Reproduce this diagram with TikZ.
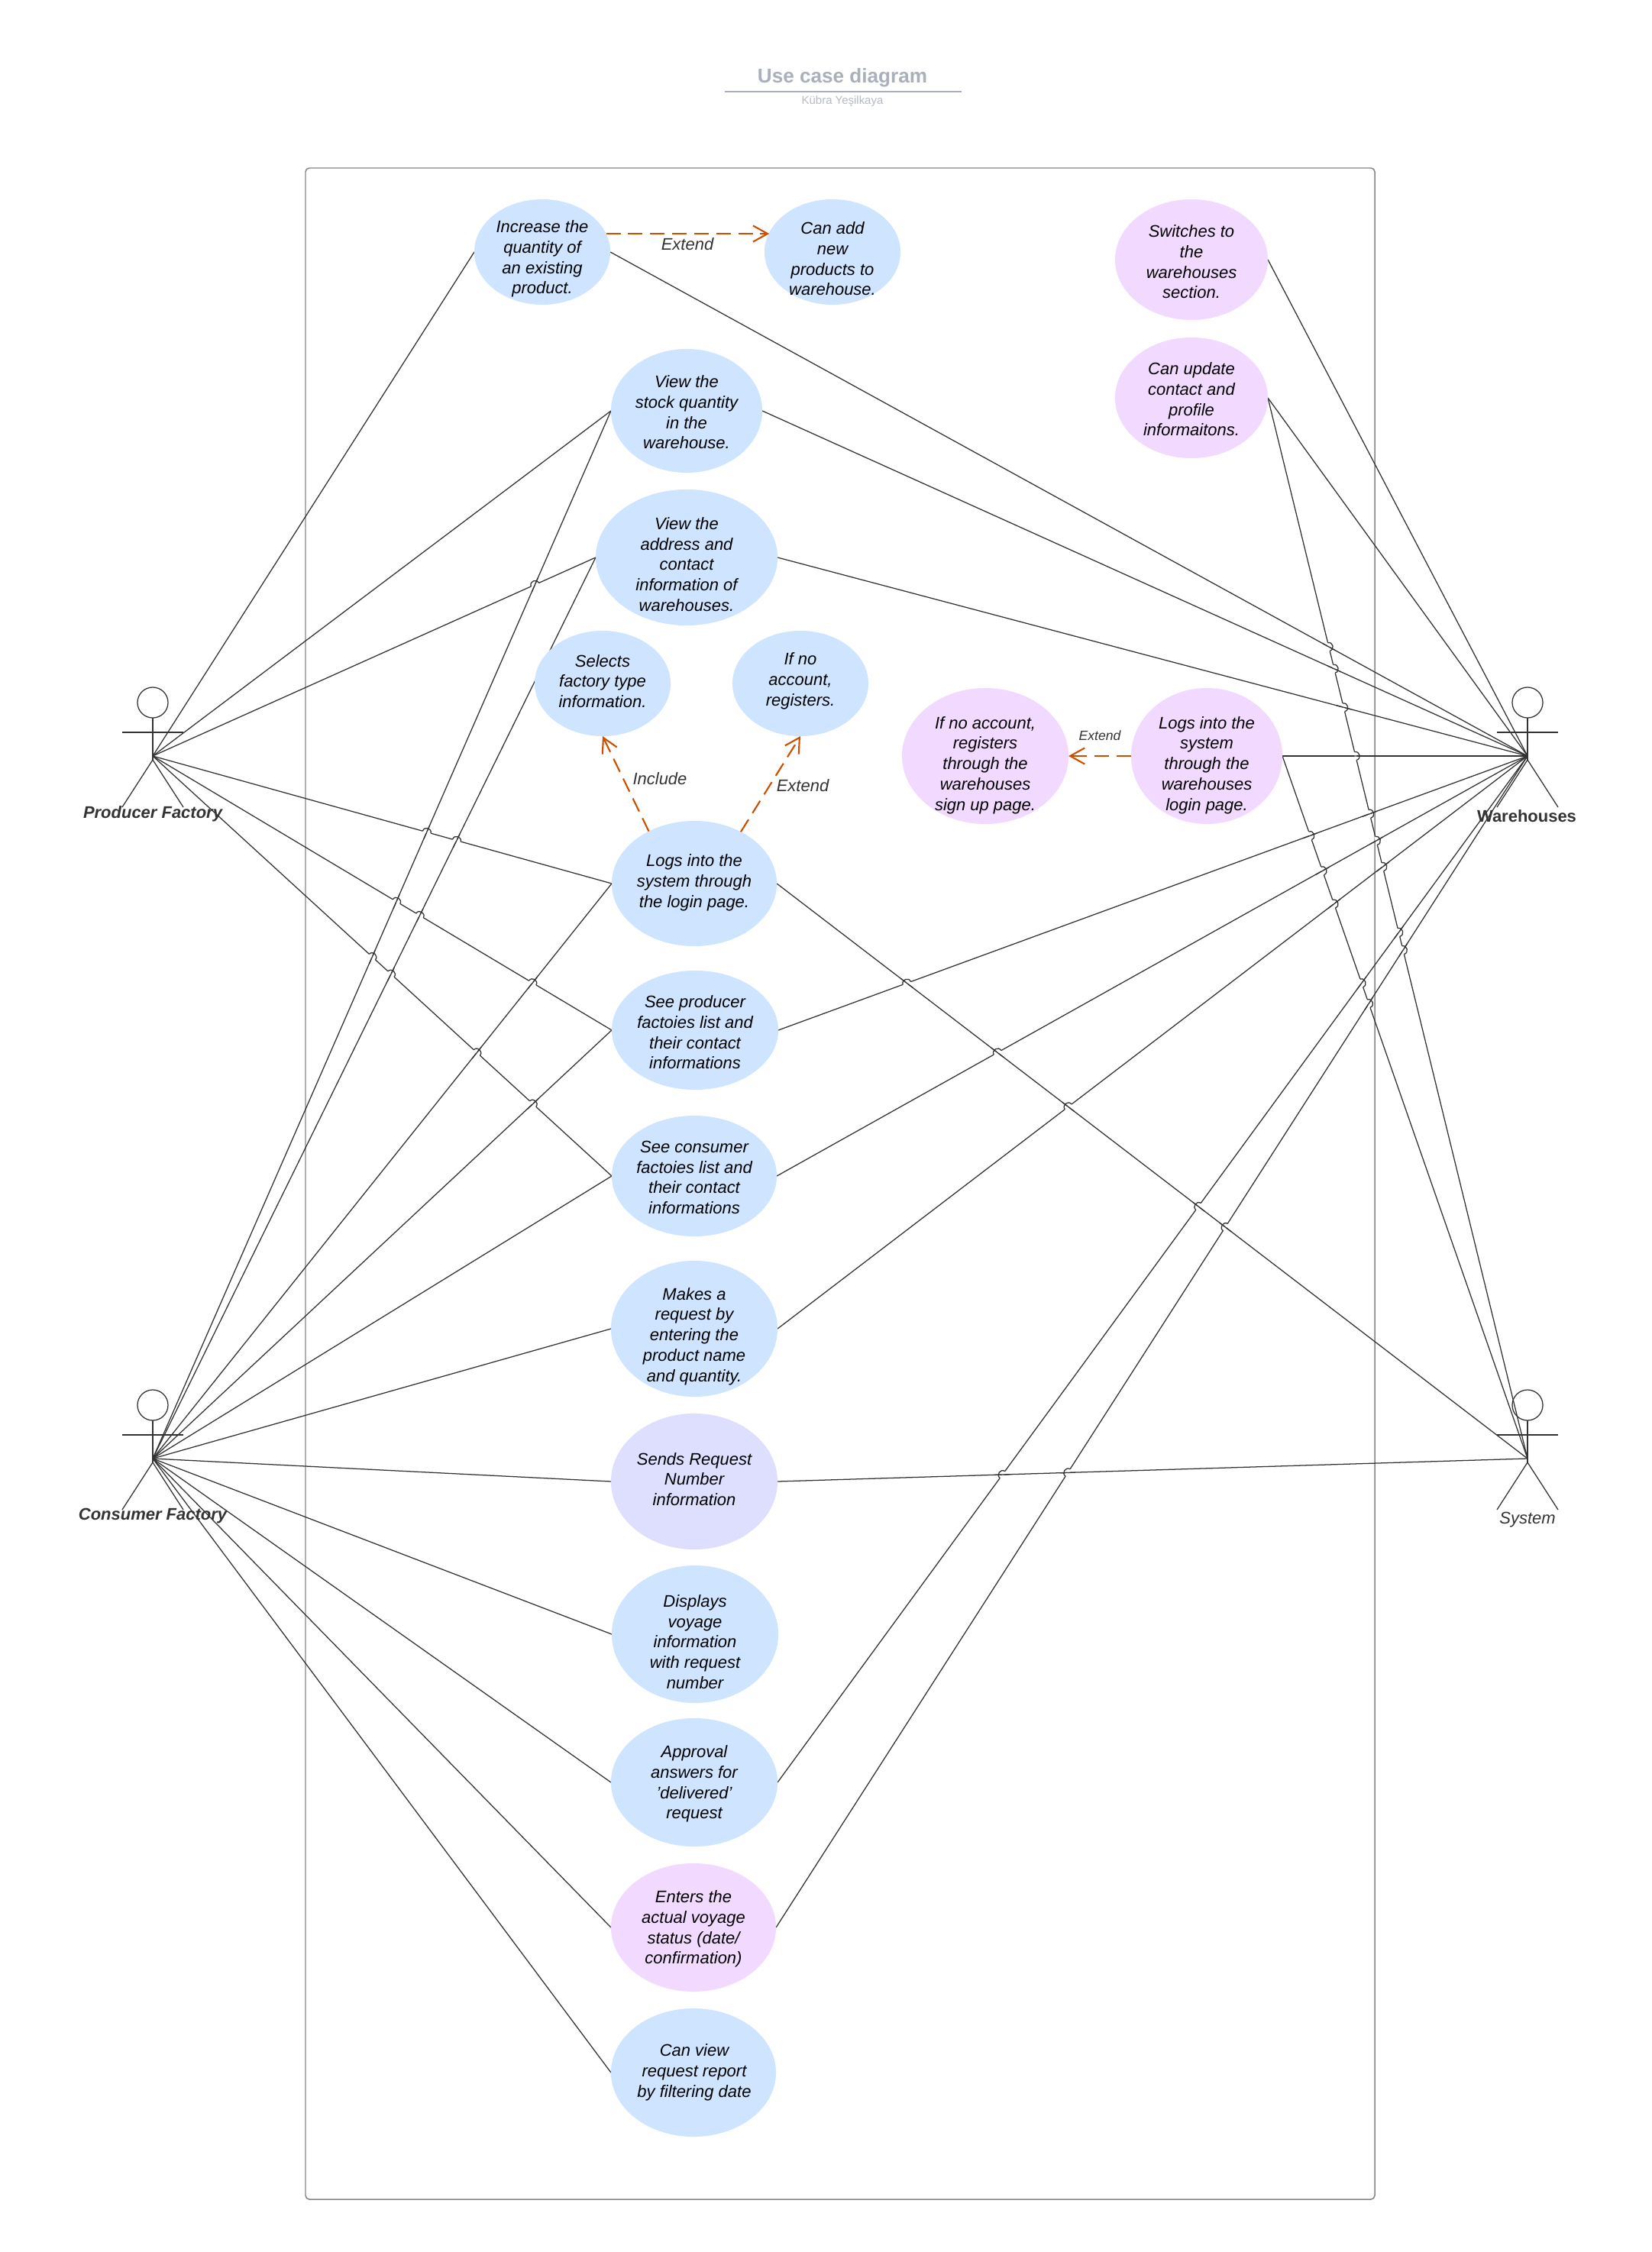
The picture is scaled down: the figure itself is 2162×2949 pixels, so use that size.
\documentclass[tikz,border=0pt]{standalone}
\usepackage{fontspec}
\setmainfont{Liberation Sans}
\usetikzlibrary{arrows.meta,backgrounds,calc,shapes.geometric}
\definecolor{ucblue}{HTML}{CFE4FF}
\definecolor{ucpink}{HTML}{F2D9FF}
\definecolor{uclav}{HTML}{DEDEFF}
\definecolor{relcol}{HTML}{CC4E00}
\definecolor{titlecol}{HTML}{A9AFBB}
\definecolor{subcol}{HTML}{B5B9C4}
\definecolor{linecol}{HTML}{333333}
\tikzset{
  uc/.style 2 args={ellipse,minimum width=#1,minimum height=#2,inner sep=0pt,outer sep=0pt},
  uctext/.style={align=center,inner sep=0pt,text=black,font=\fontsize{6.25}{7.6}\selectfont\itshape},
  conn/.style={draw=linecol,line width=0.36pt},
  figline/.style={draw=linecol,line width=0.36pt},
  rel/.style={draw=relcol,line width=0.6pt,dash pattern=on 5.4pt off 2.8pt,-{Straight Barb[length=5.4pt,width=6pt,line width=0.6pt]}},
  rellabel/.style={inner sep=0pt,text=linecol,font=\fontsize{6.25}{7.6}\selectfont\itshape},
  actorname/.style={inner sep=0pt,text=linecol,font=\fontsize{6.25}{7.6}\selectfont\bfseries}
}
% stick figure, the connectors end at its hip
\newcommand{\actorfig}[3]{%
  \coordinate (#1) at (#2,#3);
  \draw[figline] (#2,#3-70) circle (0.2cm);
  \draw[figline] (#2,#3-50) -- (#2,#3+5);
  \draw[figline] (#2-40,#3-31) -- (#2+40,#3-31);
  \draw[figline] (#2-40,#3+67) -- (#2,#3+5) -- (#2+40,#3+67);
}
% line #1--#2 (left to right) jumps over line #3--#4
\newcommand{\hop}[4]{%
  \coordinate (hx) at (intersection of #1--#2 and #3--#4);
  \coordinate (ha) at ($(hx)!0.055cm!(#1)$);
  \coordinate (hb) at ($(hx)!0.055cm!(#2)$);
  \draw[white,line width=0.8pt] (ha) -- (hb);
  \draw[conn] ($(hx)!0.1cm!(#3)$) -- ($(hx)!0.1cm!(#4)$);
  \draw[conn] (ha) .. controls ($(ha)!0.07cm!90:(hb)$) and ($(hb)!0.07cm!-90:(ha)$) .. (hb);
}
\begin{document}
\begin{tikzpicture}[x=0.01cm,y=-0.01cm]
  \useasboundingbox (0,0) rectangle (2162,2949);

  % title
  \node[inner sep=0pt,text=titlecol,font=\fontsize{7.43}{9}\selectfont\bfseries] (title) at (1103,102) {Use case diagram};
  \node[inner sep=0pt,text=subcol,font=\fontsize{4.25}{5}\selectfont] (author) at (1103,133) {Kübra Yeşilkaya};
  \coordinate (rulea) at (949,120);
  \coordinate (ruleb) at (1259,120);
  \draw[titlecol,line width=0.42pt] (rulea) -- (ruleb);

  % use cases
  \node[uc={1.78cm}{1.38cm},fill=ucblue] (inc) at (710,330) {};
  \node[uctext] (inct) at (710,339) {Increase the\\quantity of\\an existing\\product.};
  \node[uc={1.78cm}{1.38cm},fill=ucblue] (add) at (1090,330) {};
  \node[uctext] (addt) at (1090,339) {Can add\\new\\products to\\warehouse.};
  \node[uc={2cm}{1.58cm},fill=ucpink] (swi) at (1560,340) {};
  \node[uctext] (swit) at (1560,343) {Switches to\\the\\warehouses\\section.};
  \node[uc={2cm}{1.58cm},fill=ucpink] (upd) at (1560,521) {};
  \node[uctext] (updt) at (1560,523) {Can update\\contact and\\profile\\informaitons.};
  \node[uc={1.98cm}{1.62cm},fill=ucblue] (sto) at (899,538) {};
  \node[uctext] (stot) at (899,540) {View the\\stock quantity\\in the\\warehouse.};
  \node[uc={2.38cm}{1.78cm},fill=ucblue] (adr) at (899,730) {};
  \node[uctext] (adrt) at (899,739) {View the\\address and\\contact\\information of\\warehouses.};
  \node[uc={1.78cm}{1.38cm},fill=ucblue] (sel) at (789,895) {};
  \node[uctext] (selt) at (789,892) {Selects\\factory type\\information.};
  \node[uc={1.78cm}{1.38cm},fill=ucblue] (noa) at (1048,895) {};
  \node[uctext] (noat) at (1048,892) {If no\\account,\\registers.};
  \node[uc={2.18cm}{1.78cm},fill=ucpink] (reg) at (1290,990) {};
  \node[uctext] (regt) at (1290,1002) {If no account,\\registers\\through the\\warehouses\\sign up page.};
  \node[uc={1.98cm}{1.78cm},fill=ucpink] (lwh) at (1580,990) {};
  \node[uctext] (lwht) at (1580,1002) {Logs into the\\system\\through the\\warehouses\\login page.};
  \node[uc={2.16cm}{1.64cm},fill=ucblue] (log) at (909,1157) {};
  \node[uctext] (logt) at (909,1156) {Logs into the\\system through\\the login page.};
  \node[uc={2.18cm}{1.56cm},fill=ucblue] (spr) at (910,1349) {};
  \node[uctext] (sprt) at (910,1352) {See producer\\factoies list and\\their contact\\informations};
  \node[uc={2.16cm}{1.58cm},fill=ucblue] (sco) at (909,1540) {};
  \node[uctext] (scot) at (909,1542) {See consumer\\factoies list and\\their contact\\informations};
  \node[uc={2.18cm}{1.78cm},fill=ucblue] (mak) at (909,1740) {};
  \node[uctext] (makt) at (909,1750) {Makes a\\request by\\entering the\\product name\\and quantity.};
  \node[uc={2.18cm}{1.78cm},fill=uclav] (sen) at (909,1940) {};
  \node[uctext] (sent) at (909,1937) {Sends Request\\Number\\information};
  \node[uc={2.18cm}{1.8cm},fill=ucblue] (dis) at (910,2140) {};
  \node[uctext] (dist) at (910,2150) {Displays\\voyage\\information\\with request\\number};
  \node[uc={2.18cm}{1.68cm},fill=ucblue] (app) at (909,2334) {};
  \node[uctext] (appt) at (909,2336) {Approval\\answers for\\'delivered'\\request};
  \node[uc={2.16cm}{1.68cm},fill=ucpink] (ent) at (908,2524) {};
  \node[uctext] (entt) at (908,2526) {Enters the\\actual voyage\\status (date/\\confirmation)};
  \node[uc={2.16cm}{1.68cm},fill=ucblue] (vie) at (908,2714) {};
  \node[uctext] (viet) at (909,2714) {Can view\\request report\\by filtering date};

  % actors
  \actorfig{prod}{200}{990}
  \actorfig{cons}{200}{1910}
  \actorfig{ware}{2000}{990}
  \actorfig{syst}{2000}{1910}
  \node[actorname,font=\fontsize{6.25}{7.6}\selectfont\bfseries\itshape] (prodl) at (200,1066) {Producer Factory};
  \node[actorname,font=\fontsize{6.25}{7.6}\selectfont\bfseries\itshape] (consl) at (200,1985) {Consumer Factory};
  \node[actorname] (warel) at (1999,1069) {Warehouses};
  \node[rellabel] (systl) at (2000,1990) {System};

  % include and extend
  \draw[rel] (inc.16.8) -- (inc.16.8 -| add.163.2);
  \node[rellabel] (ext1) at (900,320) {Extend};
  \draw[rel] (log.131) -- (sel.south);
  \node[rellabel] (inc1) at (864,1020) {Include};
  \draw[rel] (log.48) -- (noa.south);
  \node[rellabel] (ext2) at (1051,1029) {Extend};
  \draw[rel] (lwh.west) -- (reg.east);
  \node[rellabel,font=\fontsize{5}{6}\selectfont\itshape] (ext3) at (1440,963) {Extend};

  \begin{scope}[on background layer]
    \draw[draw=black!48,line width=0.42pt,rounded corners=0.05cm] (400,220) rectangle (1800,2880);

    \draw[conn] (prod) -- (inc.west);
    \draw[conn] (prod) -- (sto.west);
    \draw[conn] (prod) -- (adr.west);
    \draw[conn] (prod) -- (log.west);
    \draw[conn] (prod) -- (spr.west);
    \draw[conn] (prod) -- (sco.west);

    \draw[conn] (cons) -- (sto.west);
    \draw[conn] (cons) -- (adr.west);
    \draw[conn] (cons) -- (log.west);
    \draw[conn] (cons) -- (spr.west);
    \draw[conn] (cons) -- (sco.west);
    \draw[conn] (cons) -- (mak.west);
    \draw[conn] (cons) -- (sen.west);
    \draw[conn] (cons) -- (dis.west);
    \draw[conn] (cons) -- (app.west);
    \draw[conn] (cons) -- (ent.west);
    \draw[conn] (cons) -- (vie.west);

    \draw[conn] (inc.east) -- (ware);
    \draw[conn] (sto.east) -- (ware);
    \draw[conn] (adr.east) -- (ware);
    \draw[conn] (swi.east) -- (ware);
    \draw[conn] (upd.east) -- (ware);
    \draw[conn] (lwh.east) -- (ware);
    \draw[conn] (spr.east) -- (ware);
    \draw[conn] (sco.east) -- (ware);
    \draw[conn] (mak.east) -- (ware);
    \draw[conn] (app.east) -- (ware);
    \draw[conn] (ent.east) -- (ware);

    \draw[conn] (upd.east) -- (syst);
    \draw[conn] (lwh.east) -- (syst);
    \draw[conn] (log.east) -- (syst);
    \draw[conn] (sen.east) -- (syst);

    % line jumps, left side
    \hop{prod}{adr.west}{cons}{sto.west}
    \hop{prod}{log.west}{cons}{sto.west}
    \hop{prod}{log.west}{cons}{adr.west}
    \hop{prod}{spr.west}{cons}{sto.west}
    \hop{prod}{spr.west}{cons}{adr.west}
    \hop{prod}{sco.west}{cons}{sto.west}
    \hop{prod}{sco.west}{cons}{adr.west}
    \hop{prod}{spr.west}{cons}{log.west}
    \hop{prod}{sco.west}{cons}{log.west}
    \hop{prod}{sco.west}{cons}{spr.west}

    % line jumps, right side
    \hop{upd.east}{syst}{inc.east}{ware}
    \hop{upd.east}{syst}{sto.east}{ware}
    \hop{upd.east}{syst}{adr.east}{ware}
    \hop{upd.east}{syst}{lwh.east}{ware}
    \hop{upd.east}{syst}{spr.east}{ware}
    \hop{upd.east}{syst}{sco.east}{ware}
    \hop{upd.east}{syst}{mak.east}{ware}
    \hop{upd.east}{syst}{app.east}{ware}
    \hop{upd.east}{syst}{ent.east}{ware}
    \hop{lwh.east}{syst}{spr.east}{ware}
    \hop{lwh.east}{syst}{sco.east}{ware}
    \hop{lwh.east}{syst}{mak.east}{ware}
    \hop{lwh.east}{syst}{app.east}{ware}
    \hop{lwh.east}{syst}{ent.east}{ware}
    \hop{spr.east}{ware}{log.east}{syst}
    \hop{sco.east}{ware}{log.east}{syst}
    \hop{mak.east}{ware}{log.east}{syst}
    \hop{app.east}{ware}{log.east}{syst}
    \hop{ent.east}{ware}{log.east}{syst}
    \hop{app.east}{ware}{sen.east}{syst}
    \hop{ent.east}{ware}{sen.east}{syst}
  \end{scope}
\end{tikzpicture}
\end{document}
